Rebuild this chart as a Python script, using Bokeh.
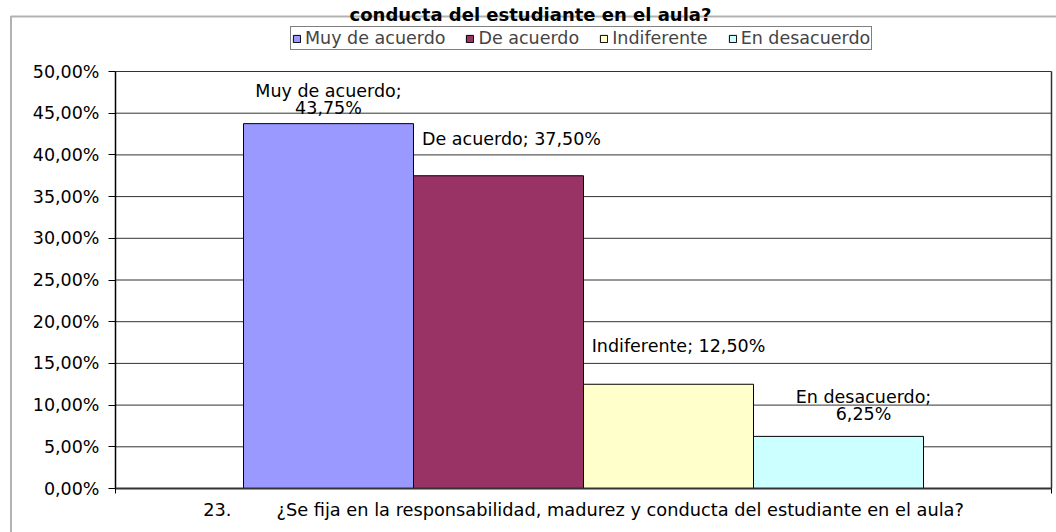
from bokeh.plotting import figure
from bokeh.models import (Range1d, FixedTicker, Legend, LegendItem, Label,
                          BoxAnnotation, ColumnDataSource, LinearAxis)
from bokeh.core.properties import value
from bokeh.embed import file_html
from bokeh.resources import INLINE

# ---------------- data ----------------
title_text = "conducta del estudiante en el aula?"
question_num = "23."
question = "¿Se fija en la responsabilidad, madurez y conducta del estudiante en el aula?"
series = ["Muy de acuerdo", "De acuerdo", "Indiferente", "En desacuerdo"]
values = [43.75, 37.50, 12.50, 6.25]
y_ticks = [0, 5, 10, 15, 20, 25, 30, 35, 40, 45, 50]
y_tick_labels = ["0,00%", "5,00%", "10,00%", "15,00%", "20,00%", "25,00%",
                 "30,00%", "35,00%", "40,00%", "45,00%", "50,00%"]

# ---------------- style / layout (pixels) ----------------
colors = ["#9999FF", "#993366", "#FFFFCC", "#CCFFFF"]
label_sep = [";\n", "; ", "; ", ";\n"]
label_dx = [0, 13, 10, 25]
label_dy = [-24, -37, -38, -31]
FONT = "DejaVu Sans"
FS = "17.5px"
W, H = 1056, 532
PL, PR, PT, PB = 115, 1051, 71, 488      # plot area box in canvas pixels
Y_MAX = y_ticks[-1]
bar_w = 170 / 936.0                       # bar width as a fraction of the category

def px_x(px):
    return (px - PL) / (PR - PL)

def px_y(py):
    return (PB - py) * Y_MAX / (PB - PT)

p = figure(width=W, height=H, output_backend="svg", toolbar_location=None,
           x_range=Range1d(px_x(0), px_x(W)), y_range=Range1d(px_y(H), px_y(0)),
           x_axis_location=None, y_axis_location=None,
           min_border_left=0, min_border_right=0, min_border_top=0,
           min_border_bottom=0)
p.background_fill_color = "white"
p.border_fill_color = "white"
p.outline_line_color = None
p.xgrid.grid_line_color = None
p.ygrid.grid_line_color = None

n = len(series)
centers = [0.5 + (i - (n - 1) / 2) * bar_w for i in range(n)]

# horizontal gridlines of the plot area (from the y ticks)
p.segment(x0=[0] * (len(y_ticks) - 1), x1=[1] * (len(y_ticks) - 1),
          y0=y_ticks[1:], y1=y_ticks[1:], line_color="#333333", line_width=1)
# right edge of the plot area
p.segment(x0=[1], x1=[1], y0=[0], y1=[Y_MAX], line_color="#333333", line_width=1.5)

renderers = []
for i, (s, v, c) in enumerate(zip(series, values, colors)):
    r = p.vbar(x=[centers[i]], top=[v], width=bar_w, fill_color=c,
               line_color="black", line_width=1)
    renderers.append(r)

def fmt(v):
    return ("%.2f" % v).replace(".", ",") + "%"

lab_src = ColumnDataSource(dict(
    x=centers, y=values,
    text=[s + sep + fmt(v) for s, sep, v in zip(series, label_sep, values)],
    dx=label_dx, dy=label_dy))
p.text(x="x", y="y", text="text", source=lab_src, x_offset="dx", y_offset="dy",
       text_align="center", text_baseline="middle",
       text_font=value(FONT), text_font_size=FS, text_color="black",
       text_line_height=0.88)

# y axis
yaxis = LinearAxis(fixed_location=0, bounds=(0, Y_MAX),
                   ticker=FixedTicker(ticks=y_ticks))
yaxis.major_label_overrides = {t: l for t, l in zip(y_ticks, y_tick_labels)}
yaxis.major_label_text_font = FONT
yaxis.major_label_text_font_size = FS
yaxis.major_label_text_color = "black"
yaxis.axis_line_color = "black"
yaxis.axis_line_width = 1.5
yaxis.major_tick_line_color = "black"
yaxis.major_tick_out = 7
yaxis.major_tick_in = 0
yaxis.minor_tick_line_color = None
yaxis.major_label_standoff = 9
p.add_layout(yaxis, "left")

# x axis (single category)
category = question_num + "\u00a0" * 8 + question
xaxis = LinearAxis(fixed_location=0, bounds=(0, 1),
                   ticker=FixedTicker(ticks=[0.5], minor_ticks=[0, 1]))
xaxis.major_label_overrides = {0.5: category}
xaxis.major_label_text_font = FONT
xaxis.major_label_text_font_size = "17.75px"
xaxis.major_label_text_color = "black"
xaxis.axis_line_color = "#333333"
xaxis.axis_line_width = 2
xaxis.major_tick_line_color = None
xaxis.minor_tick_line_color = "black"
xaxis.minor_tick_out = 5
xaxis.minor_tick_in = 0
xaxis.major_label_standoff = 5
p.add_layout(xaxis, "below")

# legend
legend = Legend(items=[LegendItem(label=s, renderers=[r]) for s, r in zip(series, renderers)],
                orientation="horizontal", location=(290, H - 50),
                label_text_font=FONT, label_text_font_size=FS,
                glyph_width=9, glyph_height=9, label_standoff=4, spacing=20,
                padding=1, margin=0, border_line_color="black",
                border_line_width=1, background_fill_color="white",
                background_fill_alpha=1)
p.add_layout(legend, "center")

# title (the reference shows only its last line, cut at the top)
p.add_layout(Label(x=px_x(530), y=px_y(14), text=title_text, text_align="center",
                   text_baseline="alphabetic", text_font=FONT,
                   text_font_size="18px", text_font_style="bold",
                   text_color="black"))

# outer chart-area border
p.add_layout(BoxAnnotation(left=px_x(10.5), right=px_x(W + 20),
                           top=px_y(16), bottom=px_y(H + 20),
                           fill_alpha=0, line_color="black", line_width=2))

open("out.html", "w").write(file_html(p, INLINE))
